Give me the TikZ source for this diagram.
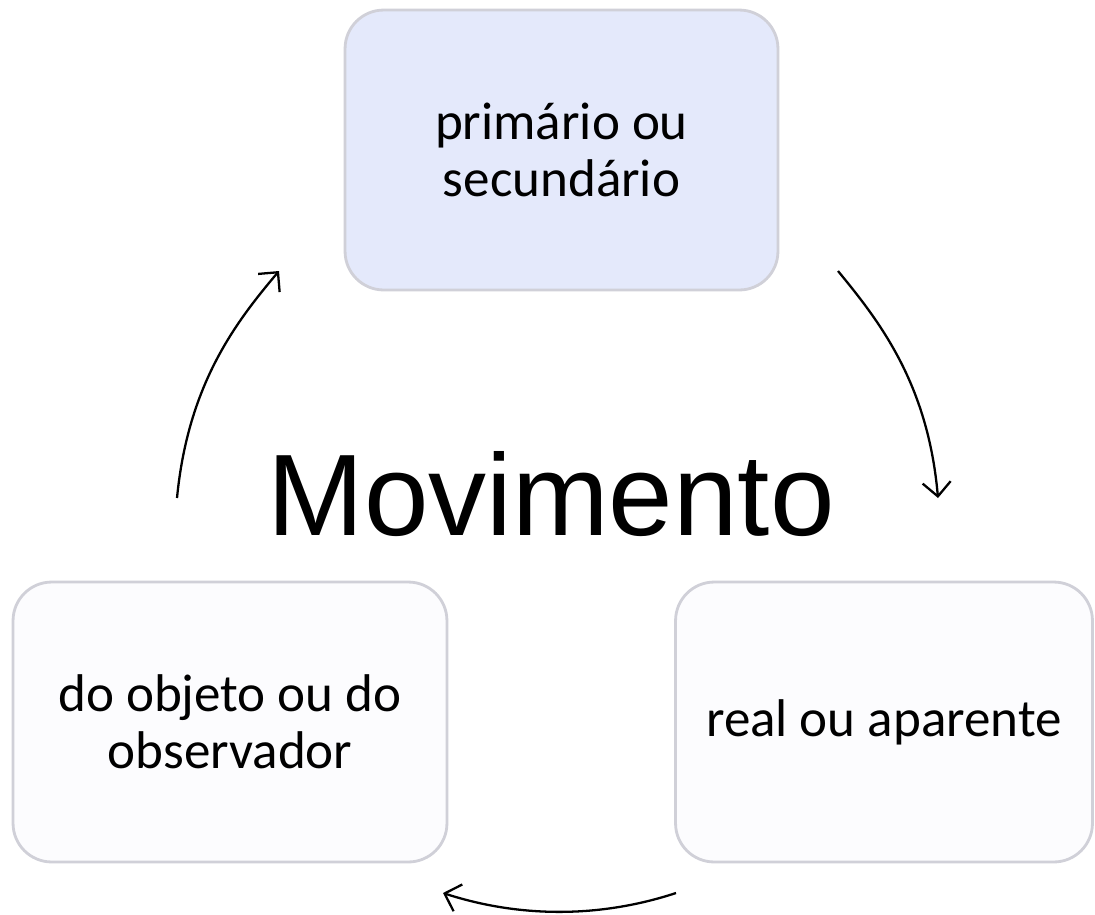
\documentclass[tikz,border=0pt]{standalone}
\usepackage{fontspec}
\setmainfont{Carlito}
\newfontfamily\arialfont{Liberation Sans}
\usetikzlibrary{arrows.meta, positioning}
\definecolor{boxblue}{RGB}{228, 233, 251}
\definecolor{boxwhite}{RGB}{252, 252, 254}
\definecolor{boxedge}{RGB}{208, 208, 216}

\begin{document}
\begin{tikzpicture}[x=0.02cm, y=-0.02cm,
  cbox/.style={draw=boxedge, line width=1.6pt, fill=boxwhite, rounded corners=22pt, minimum height=5.6cm, align=center, inner sep=0pt, font=\fontsize{30.2}{32.5}\selectfont},
  cycarrow/.style={line width=1.3pt, -{Straight Barb[length=8pt, width=16pt, line width=1.3pt]}},
  bigtitle/.style={anchor=base, inner sep=0pt, font=\arialfont\fontsize{66}{70}\selectfont}
]
  \useasboundingbox (0,0) rectangle (1095,914);

  \node[cbox, fill=boxblue, minimum width=8.66cm] (kind) at (561.5,150) {primário ou\\secundário};
  \node[cbox, minimum width=8.34cm] (real) at (884,722) {real ou aparente};
  \node[cbox, minimum width=8.68cm] (who) at (230,722) {do objeto ou do\\observador};
  \node[bigtitle] (title) at (551,535) {Movimento};

  % ends of the cycle arrows
  \coordinate (kindin) at (279,271);
  \coordinate (whoout) at (177,498);
  \coordinate (kindout) at (838,271);
  \coordinate (realin) at (938,498);
  \coordinate (realout) at (676,893);
  \coordinate (whoin) at (443,893);

  \draw[cycarrow] (kindout) .. controls (880,322) and (928,384) .. (realin);
  \draw[cycarrow] (realout) .. controls (600,918) and (520,918) .. (whoin);
  \draw[cycarrow] (whoout) .. controls (188,384) and (236,322) .. (kindin);
\end{tikzpicture}
\end{document}
